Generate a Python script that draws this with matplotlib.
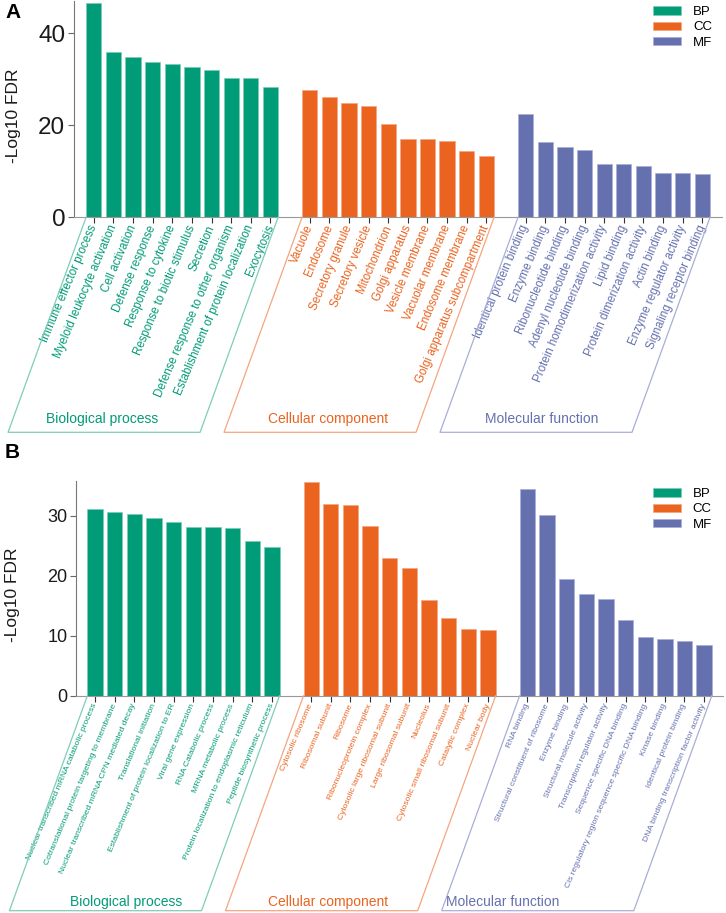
import matplotlib
matplotlib.use("Agg")
import matplotlib.pyplot as plt
from matplotlib.lines import Line2D
import numpy as np

plt.rcParams['font.family'] = ['Liberation Sans', 'DejaVu Sans']

groups = ["BP", "CC", "MF"]
group_names = ["Biological process", "Cellular component", "Molecular function"]
bar_colors = ["#009B77", "#EA631F", "#6570AE"]
box_colors = ["#7ECDB8", "#F5A57F", "#A9AED6"]

# panel A data
a_bp_terms = ["Immune effector process", "Myeloid leukocyte activation", "Cell activation",
              "Defense response", "Response to cytokine", "Response to biotic stimulus",
              "Secretion", "Defense response to other organism",
              "Establishment of protein localization", "Exocytosis"]
a_bp_vals = [46.7, 35.9, 34.9, 33.8, 33.3, 32.7, 32.1, 30.4, 30.4, 28.4]
a_cc_terms = ["Vacuole", "Endosome", "Secretory granule", "Secretory vesicle", "Mitochondrion",
              "Golgi apparatus", "Vesicle membrane", "Vacuolar membrane", "Endosome membrane",
              "Golgi apparatus subcompartment"]
a_cc_vals = [27.8, 26.2, 24.9, 24.2, 20.4, 17.1, 17.1, 16.7, 14.4, 13.3]
a_mf_terms = ["Identical protein binding", "Enzyme binding", "Ribonucleotide binding",
              "Adenyl nucleotide binding", "Protein homodimerization activity", "Lipid binding",
              "Protein dimerization activity", "Actin binding", "Enzyme regulator activity",
              "Signaling receptor binding"]
a_mf_vals = [22.4, 16.3, 15.4, 14.6, 11.7, 11.6, 11.1, 9.6, 9.6, 9.5]

# panel B data
b_bp_terms = ["Nuclear transcribed mRNA catabolic process",
              "Cotranslational protein targeting to membrane",
              "Nuclear transcribed mRNA CPN mediated decay", "Translational initiation",
              "Establishment of protein localization to ER", "Viral gene expression",
              "RNA Catabolic process", "MRNA metabolic process",
              "Protein localization to endoplasmic reticulum", "Peptide biosynthetic process"]
b_bp_vals = [31.2, 30.7, 30.3, 29.6, 28.9, 28.1, 28.1, 27.95, 25.8, 24.8]
b_cc_terms = ["Cytosolic ribosome", "Ribosomal subunit", "Ribosome", "Ribonucleoprotein complex",
              "Cytosolic large ribosomal subunit", "Large ribosomal subunit", "Nucleolus",
              "Cytosolic small ribosomal subunit", "Catalytic complex", "Nuclear body"]
b_cc_vals = [35.7, 32.0, 31.8, 28.3, 22.9, 21.3, 15.9, 12.9, 11.1, 10.9]
b_mf_terms = ["RNA binding", "Structural constituent of ribosome", "Enzyme binding",
              "Structural molecule activity", "Transcription regulator activity",
              "Sequence specific DNA binding", "Cis regulatory region sequence specific DNA binding",
              "Kinase binding", "Identical protein binding",
              "DNA binding transcription factor activity"]
b_mf_vals = [34.4, 30.2, 19.5, 16.9, 16.1, 12.6, 9.8, 9.4, 9.2, 8.5]

W, H = 726, 913
fig = plt.figure(figsize=(W / 100, H / 100), dpi=100)


def px(x, y):
    return x / W, 1 - y / H


def draw_panel(rect, terms, vals, ylim, yticks, xlim, tick_fs, lab_fs, leg_xy, ylab_x,
               name_xs, name_y, letter, letter_y):
    ax = fig.add_axes(rect)
    xs = []
    for g in range(3):
        x = np.arange(len(vals[g])) + g * 11
        ax.bar(x, vals[g], width=0.78, color=bar_colors[g], edgecolor=box_colors[g],
               linewidth=0.5, label=groups[g])
        xs.append(x)
    ax.set_xlim(*xlim)
    ax.set_ylim(*ylim)
    ax.set_yticks(yticks)
    allx = np.concatenate(xs)
    ax.set_xticks(allx)
    ax.set_xticklabels(sum(terms, []), rotation=67, ha='right', va='center',
                       rotation_mode='anchor', fontsize=lab_fs)
    k = 0
    for g in range(3):
        for i in range(len(terms[g])):
            ax.get_xticklabels()[k].set_color(bar_colors[g])
            k += 1
    ax.tick_params(axis='x', length=4, width=0.8, color='#333333', pad=2)
    ax.tick_params(axis='y', length=4, width=0.8, color='#666666', labelsize=tick_fs,
                   labelcolor='#1a1a1a', pad=2)
    for s in ['top', 'right']:
        ax.spines[s].set_visible(False)
    ax.spines['left'].set_color('#777777')
    ax.spines['bottom'].set_color('#999999')
    ax.set_ylabel("-Log10 FDR", fontsize=12.5, color='#1a1a1a')
    ax.yaxis.set_label_coords(ylab_x, 0.47)
    ax.legend(loc='upper right', bbox_to_anchor=leg_xy, frameon=False, fontsize=9.5,
              handlelength=2.1, handleheight=0.6, handletextpad=0.9, labelspacing=0.25,
              borderaxespad=0, borderpad=0)

    # group boxes below the tick labels
    inv = fig.transFigure.inverted()
    for g in range(3):
        p0 = ax.transData.transform((xs[g][0] - 0.39, 0))
        p1 = ax.transData.transform((xs[g][-1] + 0.39, 0))
        off = np.array([-78, -215])
        pts = inv.transform(np.array([p0, p0 + off, p1 + off, p1]))
        fig.add_artist(Line2D(pts[:, 0], pts[:, 1], color=box_colors[g], lw=0.9))
        fig.text(*px(name_xs[g], name_y), group_names[g], ha='center', va='center',
                 color=bar_colors[g], fontsize=10)
    fig.text(*px(5, letter_y), letter, fontsize=15, weight='bold', va='center', ha='left')
    return ax


draw_panel([73.7 / W, 1 - 217.3 / H, 648.3 / W, 216 / H],
           [a_bp_terms, a_cc_terms, a_mf_terms], [a_bp_vals, a_cc_vals, a_mf_vals],
           (0, 47), [0, 20, 40], (-1.02, 32.0), 17.5, 8.3, (0.985, 0.978), -0.082,
           [102, 328, 542], 419, "A", 12)

draw_panel([76 / W, 1 - 695.7 / H, 647 / W, 214.7 / H],
           [b_bp_terms, b_cc_terms, b_mf_terms], [b_bp_vals, b_cc_vals, b_mf_vals],
           (0, 35.8), [0, 10, 20, 30], (-0.97, 31.96), 13, 6.1, (0.983, 0.967), -0.086,
           [126, 328, 503], 902, "B", 452)

fig.savefig("out.png", dpi=100)
